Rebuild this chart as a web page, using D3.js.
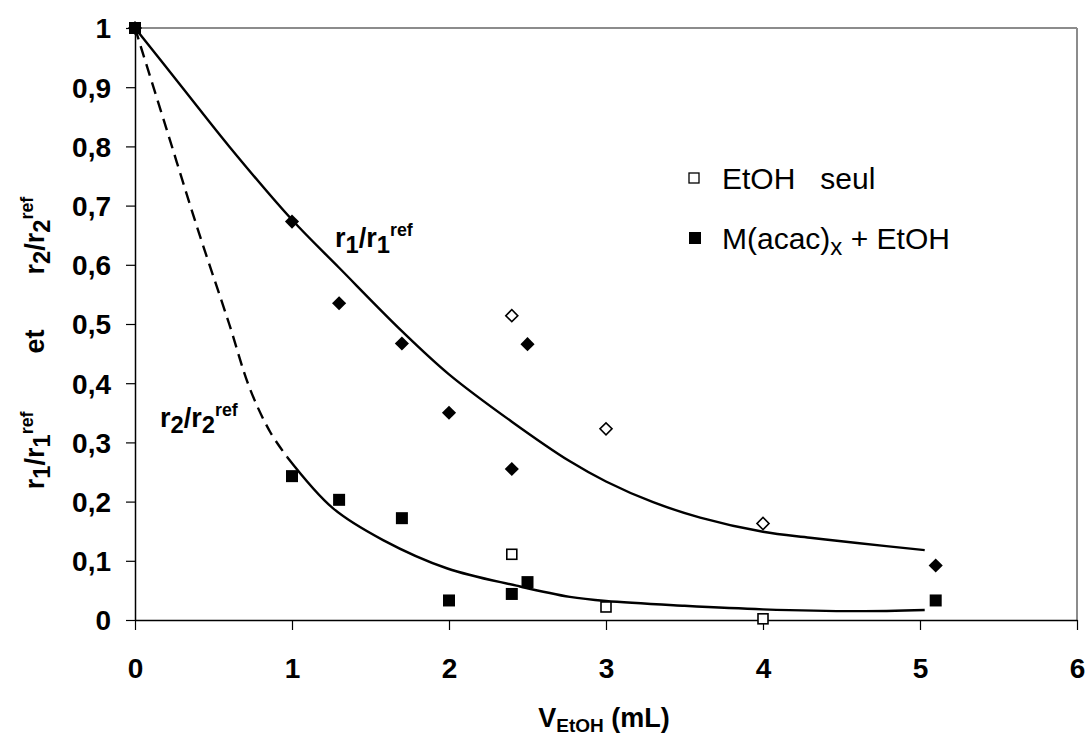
<!DOCTYPE html>
<html>
<head>
<meta charset="utf-8">
<script src="https://cdn.jsdelivr.net/npm/d3@7"></script>
<style>
  html, body { margin: 0; padding: 0; background: #fff; }
  svg { display: block; }
  text { font-family: Arial, "Liberation Sans", sans-serif; fill: #000; }
</style>
</head>
<body>
<svg id="chart" width="1085" height="740"></svg>
<script>
// ---------- data ----------
const xTicks = [0, 1, 2, 3, 4, 5, 6];
const yTicks = [0, 0.1, 0.2, 0.3, 0.4, 0.5, 0.6, 0.7, 0.8, 0.9, 1];
const yTickLabels = ["0", "0,1", "0,2", "0,3", "0,4", "0,5", "0,6", "0,7", "0,8", "0,9", "1"];

// r1/r1ref, M(acac)x + EtOH (filled diamonds)
const r1FilledX = [0, 1, 1.3, 1.7, 2, 2.4, 2.5, 5.1];
const r1FilledY = [1, 0.673, 0.535, 0.467, 0.35, 0.255, 0.466, 0.092];
// r1/r1ref, EtOH seul (open diamonds)
const r1OpenX = [2.4, 3, 4];
const r1OpenY = [0.514, 0.323, 0.163];
// r2/r2ref, M(acac)x + EtOH (filled squares)
const r2FilledX = [0, 1, 1.3, 1.7, 2, 2.4, 2.5, 5.1];
const r2FilledY = [1, 0.243, 0.203, 0.172, 0.033, 0.044, 0.064, 0.033];
// r2/r2ref, EtOH seul (open squares)
const r2OpenX = [2.4, 3, 4];
const r2OpenY = [0.111, 0.022, 0.002];

// fitted trend curves
const r1CurveX = [0, 0.3, 0.6, 1.0, 1.3, 1.7, 2.0, 2.4, 2.77, 3.0, 3.3, 3.6, 4.0, 4.3, 4.6, 5.03];
const r1CurveY = [1, 0.9, 0.8, 0.676, 0.595, 0.488, 0.415, 0.335, 0.268, 0.234, 0.199, 0.173, 0.149, 0.139, 0.13, 0.118];
const r2DashX = [0, 0.2, 0.4, 0.6, 0.73, 0.86, 0.97];
const r2DashY = [1, 0.83, 0.66, 0.5, 0.392, 0.318, 0.275];
const r2CurveX = [0.97, 1.26, 1.58, 1.99, 2.43, 2.77, 3.0, 3.5, 4.0, 4.6, 5.03];
const r2CurveY = [0.275, 0.189, 0.135, 0.087, 0.058, 0.039, 0.032, 0.024, 0.018, 0.015, 0.017];

// ---------- layout ----------
const svg = d3.select("#chart");
const L = 135, R = 1077, T = 28, B = 620;
const x = d3.scaleLinear().domain([0, 6]).range([L, R]);
const y = d3.scaleLinear().domain([0, 1]).range([B, T]);
const FONT = "Arial, 'Liberation Sans', sans-serif";

// top & right border (gray)
svg.append("line").attr("x1", L).attr("x2", R).attr("y1", T).attr("y2", T)
  .attr("stroke", "#8c8c8c").attr("stroke-width", 2);
svg.append("line").attr("x1", R).attr("x2", R).attr("y1", T).attr("y2", B)
  .attr("stroke", "#8c8c8c").attr("stroke-width", 2);

// axes
const xAxis = d3.axisBottom(x).tickValues(xTicks).tickSize(10).tickSizeOuter(0).tickFormat(d3.format("d"));
const yAxis = d3.axisLeft(y).tickValues(yTicks).tickSize(9).tickSizeOuter(0)
  .tickFormat((d, i) => yTickLabels[i]);

const gx = svg.append("g").attr("transform", `translate(0,${B})`).call(xAxis);
const gy = svg.append("g").attr("transform", `translate(${L},0)`).call(yAxis);
[gx, gy].forEach(g => {
  g.select(".domain").attr("stroke", "#000").attr("stroke-width", 1.5);
  g.selectAll(".tick line").attr("stroke", "#000").attr("stroke-width", 1.2);
  g.selectAll(".tick text").attr("font-size", 28).attr("font-weight", "bold")
    .attr("font-family", FONT).attr("fill", "#000");
});
gx.selectAll(".tick text").attr("y", 58).attr("dy", 0);
gy.selectAll(".tick text").attr("x", -24).attr("dy", "0.35em");

// ---------- curves ----------
const line = d3.line().x(d => x(d[0])).y(d => y(d[1])).curve(d3.curveCatmullRom.alpha(0.5));
svg.append("path").datum(d3.zip(r1CurveX, r1CurveY)).attr("d", line)
  .attr("fill", "none").attr("stroke", "#000").attr("stroke-width", 2.4);
svg.append("path").datum(d3.zip(r2DashX, r2DashY)).attr("d", line)
  .attr("fill", "none").attr("stroke", "#000").attr("stroke-width", 2.4)
  .attr("stroke-dasharray", "12,7");
svg.append("path").datum(d3.zip(r2CurveX, r2CurveY)).attr("d", line)
  .attr("fill", "none").attr("stroke", "#000").attr("stroke-width", 2.4);

// ---------- markers ----------
function drawDiamonds(xs, ys, filled, size) {
  svg.append("g").selectAll("rect").data(d3.zip(xs, ys)).join("rect")
    .attr("x", -size / 2).attr("y", -size / 2).attr("width", size).attr("height", size)
    .attr("transform", d => `translate(${x(d[0])},${y(d[1])}) rotate(45)`)
    .attr("fill", filled ? "#000" : "#fff").attr("stroke", "#000")
    .attr("stroke-width", filled ? 0 : 1.6);
}
function drawSquares(xs, ys, filled, size) {
  svg.append("g").selectAll("rect").data(d3.zip(xs, ys)).join("rect")
    .attr("x", d => x(d[0]) - size / 2).attr("y", d => y(d[1]) - size / 2)
    .attr("width", size).attr("height", size)
    .attr("fill", filled ? "#000" : "#fff").attr("stroke", "#000")
    .attr("stroke-width", filled ? 0 : 1.6);
}
drawDiamonds(r1OpenX, r1OpenY, false, 8.5);
drawDiamonds(r1FilledX, r1FilledY, true, 10);
drawSquares(r2OpenX, r2OpenY, false, 10);
drawSquares(r2FilledX, r2FilledY, true, 12);

// ---------- rich text helper ----------
function rich(parent, parts, size, weight) {
  const t = parent.append("text").attr("font-size", size).attr("font-weight", weight)
    .attr("font-family", FONT);
  let shift = 0;
  parts.forEach(p => {
    const ts = t.append("tspan").text(p.t);
    let target = 0, fs = size;
    if (p.s === "sub") { target = p.shift != null ? p.shift : size * 0.22; fs = p.fs || size * 0.88; }
    if (p.s === "sup") { target = -size * 0.4; fs = size * 0.66; }
    ts.attr("font-size", fs).attr("dy", target - shift);
    if (p.dx) ts.attr("dx", p.dx);
    shift = target;
  });
  return t;
}

// curve labels
rich(svg.append("g").attr("transform", "translate(335,247)"),
  [{t: "r"}, {t: "1", s: "sub"}, {t: "/r"}, {t: "1", s: "sub"}, {t: "ref", s: "sup"}], 27, "bold");
rich(svg.append("g").attr("transform", "translate(160,427)"),
  [{t: "r"}, {t: "2", s: "sub"}, {t: "/r"}, {t: "2", s: "sub"}, {t: "ref", s: "sup"}], 27, "bold");

// y axis title
rich(svg.append("g").attr("transform", "translate(44,343) rotate(-90)"),
  [{t: "r"}, {t: "1", s: "sub"}, {t: "/r"}, {t: "1", s: "sub"}, {t: "ref", s: "sup"},
   {t: "et", dx: 58}, {t: "r", dx: 55}, {t: "2", s: "sub"}, {t: "/r"}, {t: "2", s: "sub"}, {t: "ref", s: "sup"}],
  27, "bold").attr("text-anchor", "middle");

// x axis title
rich(svg.append("g").attr("transform", "translate(604,727)"),
  [{t: "V"}, {t: "EtOH", s: "sub", fs: 19, shift: 5}, {t: " (mL)"}], 27, "bold")
  .attr("text-anchor", "middle");

// ---------- legend ----------
const lg = svg.append("g");
lg.append("rect").attr("x", 689).attr("y", 173).attr("width", 10).attr("height", 10)
  .attr("fill", "#fff").attr("stroke", "#000").attr("stroke-width", 1.3);
lg.append("text").attr("x", 722).attr("y", 189).attr("font-size", 30).attr("font-family", FONT)
  .style("white-space", "pre").text("EtOH   seul");
lg.append("rect").attr("x", 689).attr("y", 232).attr("width", 12).attr("height", 12).attr("fill", "#000");
rich(lg.append("g").attr("transform", "translate(722,249)"),
  [{t: "M(acac)"}, {t: "x", s: "sub", fs: 24, shift: 6}, {t: " + EtOH"}], 30, "normal").style("white-space", "pre");
</script>
</body>
</html>
